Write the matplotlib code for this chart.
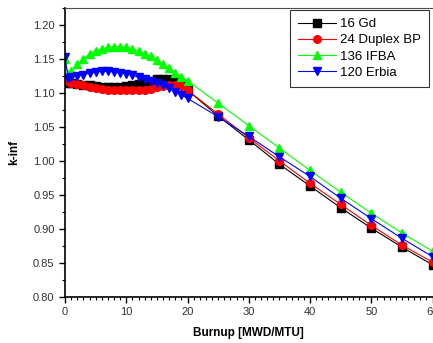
import numpy as np
import matplotlib
matplotlib.use('Agg')
import matplotlib.pyplot as plt
from matplotlib.ticker import MultipleLocator, FormatStrFormatter

plt.rcParams['font.family'] = ['Liberation Sans', 'DejaVu Sans']

# burnup steps [MWD/MTU]
burnup = [0, 0.5, 1, 2, 3, 4, 5, 6, 7, 8, 9, 10, 11, 12, 13, 14, 15, 16, 17, 18, 19, 20,
          25, 30, 35, 40, 45, 50, 55, 60]

# k-inf per burnable absorber design
gd16 = [1.118, 1.115, 1.114, 1.113, 1.112, 1.111, 1.110, 1.109, 1.109, 1.109, 1.109, 1.110,
        1.111, 1.113, 1.116, 1.118, 1.120, 1.121, 1.121, 1.118, 1.114, 1.104,
        1.066, 1.031, 0.995, 0.963, 0.931, 0.901, 0.873, 0.847]
duplex24 = [1.120, 1.117, 1.115, 1.113, 1.111, 1.109, 1.107, 1.106, 1.105, 1.104, 1.104, 1.104,
            1.104, 1.104, 1.105, 1.106, 1.108, 1.110, 1.112, 1.112, 1.110, 1.104,
            1.069, 1.034, 1.000, 0.967, 0.936, 0.905, 0.876, 0.851]
ifba136 = [1.150, 1.128, 1.132, 1.142, 1.150, 1.157, 1.162, 1.165, 1.167, 1.168, 1.168, 1.167,
           1.165, 1.162, 1.158, 1.154, 1.148, 1.142, 1.136, 1.130, 1.124, 1.118,
           1.085, 1.052, 1.019, 0.986, 0.954, 0.923, 0.894, 0.867]
erbia120 = [1.153, 1.122, 1.123, 1.125, 1.127, 1.129, 1.131, 1.132, 1.132, 1.131, 1.130, 1.128,
            1.126, 1.123, 1.120, 1.117, 1.114, 1.111, 1.107, 1.102, 1.097, 1.092,
            1.065, 1.036, 1.006, 0.977, 0.945, 0.915, 0.886, 0.859]

fig = plt.figure(figsize=(4.33, 3.43), dpi=100, facecolor="white")
ax = fig.add_axes([65/433, 1-296.7/343, 367.5/433, 288.7/343])

ms = 5.5
lw = 0.8
ax.plot(burnup, gd16, color='black', marker='s', ms=ms, lw=lw, label='16 Gd')
ax.plot(burnup, duplex24, color='#ff0000', marker='o', ms=ms, lw=lw, label='24 Duplex BP')
ax.plot(burnup, ifba136, color='#00ff00', marker='^', ms=ms+0.5, lw=lw, label='136 IFBA')
ax.plot(burnup, erbia120, color='#0000ff', marker='v', ms=ms+0.5, lw=lw, label='120 Erbia')

ax.set_xlim(0, 60)
ax.set_ylim(0.80, 1.225)
ax.xaxis.set_major_locator(MultipleLocator(10))
ax.xaxis.set_minor_locator(MultipleLocator(1))
ax.yaxis.set_major_locator(MultipleLocator(0.05))
ax.yaxis.set_minor_locator(MultipleLocator(0.025))
ax.yaxis.set_major_formatter(FormatStrFormatter('%.2f'))

ax.tick_params(which='major', direction='out', length=4, width=1, labelsize=8,
               labelcolor='#333333', top=False, right=False)
ax.tick_params(which='minor', direction='out', length=2, width=0.8, top=False, right=False)

for s in ['left', 'bottom']:
    ax.spines[s].set_linewidth(1.2)
ax.spines['top'].set_linewidth(0.8)
ax.spines['top'].set_color('0.3')
ax.spines['right'].set_visible(False)

ax.set_xlabel('Burnup [MWD/MTU]', fontsize=8.5, fontweight='bold', labelpad=7)
ax.set_ylabel('k-inf', fontsize=8.5, fontweight='bold', labelpad=9)

leg = ax.legend(loc='upper right', bbox_to_anchor=(0.99, 0.993), borderaxespad=0,
                fontsize=9.5, frameon=True, fancybox=False, edgecolor='black',
                handlelength=2.9, handletextpad=0.3, labelspacing=0.3, borderpad=0.6)
leg.get_frame().set_linewidth(0.8)

plt.savefig('out.png', dpi=100)
